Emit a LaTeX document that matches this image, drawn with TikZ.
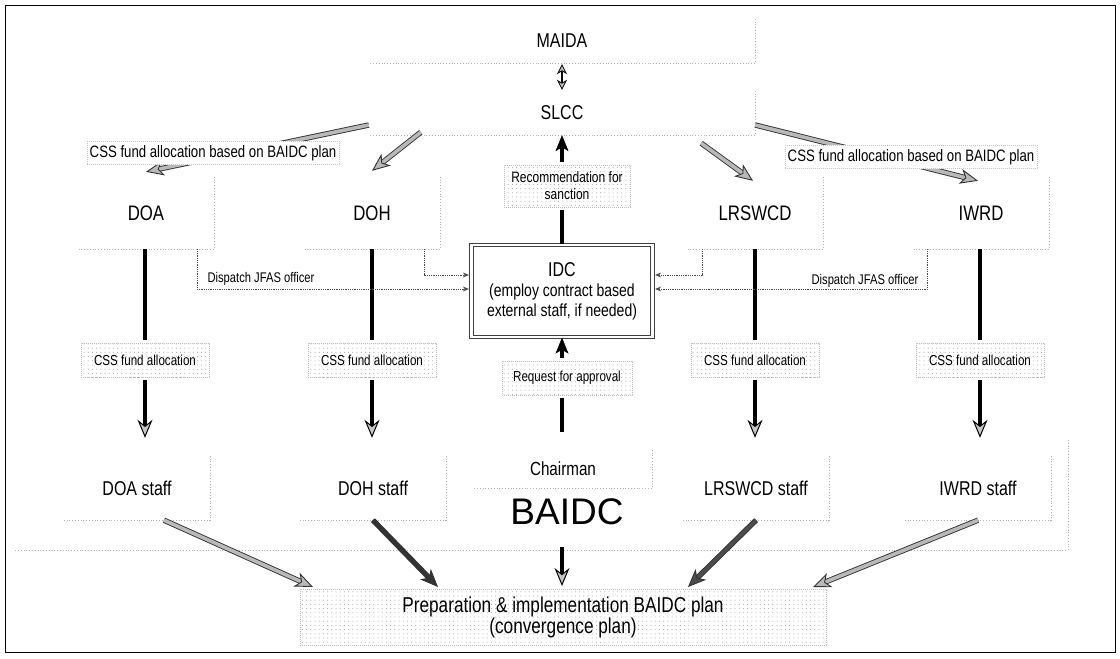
\documentclass[tikz,border=0pt]{standalone}
\usepackage{fontspec}
\setmainfont{Liberation Sans}[FakeStretch=0.8]
\newfontfamily\widefont{Liberation Sans}
\usetikzlibrary{arrows.meta,patterns.meta}

\begin{document}
\begin{tikzpicture}[x=1pt, y=-1pt,
    rim/.style={draw=gray!60, line width=0.5pt, dash pattern=on 0.8pt off 2pt},
    unit/.style={inner sep=0pt, font=\fontsize{20}{24}\selectfont, minimum width=386, minimum height=44},
    dept/.style={inner sep=0pt, font=\fontsize{21}{25}\selectfont, minimum width=136, minimum height=72},
    staff/.style={inner sep=0pt, font=\fontsize{20}{24}\selectfont, minimum width=146, minimum height=64},
    lab/.style={draw=gray!50, line width=0.4pt, dash pattern=on 0.6pt off 1.4pt, preaction={fill=white},
        pattern={Dots[distance=4.2pt, radius=0.5pt]}, pattern color=gray!75, align=center, inner sep=0pt, outer sep=3pt},
    fund/.style={lab, font=\fontsize{14.5}{17}\selectfont, minimum width=128, minimum height=34},
    toplab/.style={draw=gray!45, line width=0.4pt, dash pattern=on 0.6pt off 1.4pt, fill=white,
        font=\fontsize{16.5}{19}\selectfont, inner xsep=3pt, inner ysep=4pt},
    dispatch/.style={inner sep=0pt, font=\fontsize{14}{17}\selectfont},
    ibox/.style={draw=black!75, line width=1.3pt, double=white, double distance=2.2pt, align=center,
        font=\fontsize{17.5}{20}\selectfont, minimum width=181, minimum height=92, inner sep=0pt},
    disp/.style={draw=black!70, line width=0.8pt, densely dotted, shorten >=2pt, -{Stealth[length=6pt, width=5pt]}},
    garrow/.style={draw=#1, line width=3.6pt,
        -{Stealth[length=18pt, width=15pt, inset=5pt, fill=#1, color=black!80, line width=0.9pt]},
        preaction={draw=black!80, line width=5.4pt, -, shorten >=13pt}},
    garrow/.default=gray!55,
    bline/.style={draw=black, line width=4.5pt},
    barrow/.style={bline, -{Stealth[length=18pt, width=15pt, inset=6pt, fill=gray!45, color=black, line width=1pt]}},
    uarrow/.style={bline, -{Stealth[length=16pt, width=13pt, inset=4pt, line width=0.5pt]}},
    twoway/.style={draw=black, line width=2.4pt, shorten <=1pt, shorten >=1pt,
        {Stealth[length=10pt, width=10pt, inset=3pt, fill=gray!50, line width=0.8pt]}-{Stealth[length=10pt, width=10pt, inset=3pt, fill=gray!50, line width=0.8pt]}}]
    \useasboundingbox (0,0) rectangle (1120,659);
    \draw[line width=1pt] (5,5) rectangle (1115,652);
    \draw[rim] (1068,440) |- (15,550);

    \node[unit] (maida) at (562,41) {MAIDA};
    \node[unit] (slcc) at (562,113) {SLCC};
    \node[dept] (doa) at (146,213) {DOA};
    \node[dept] (doh) at (372,213) {DOH};
    \node[dept] (lrswcd) at (755,213) {LRSWCD};
    \node[dept] (iwrd) at (981,213) {IWRD};
    \node[ibox] (idc) at (562,291) {{\fontsize{20}{22}\selectfont IDC}\\(employ contract based\\external staff, if needed)};
    \node[lab, font=\fontsize{15}{17}\selectfont, minimum width=126, minimum height=42] (rec) at (567,186) {Recommendation for\\sanction};
    \node[lab, font=\fontsize{14.5}{17}\selectfont, minimum width=130, minimum height=34] (req) at (567,378) {Request for approval};
    \node[fund] (fdoa) at (145,360) {CSS fund allocation};
    \node[fund] (fdoh) at (372,360) {CSS fund allocation};
    \node[fund] (flrswcd) at (755,360) {CSS fund allocation};
    \node[fund] (fiwrd) at (980,360) {CSS fund allocation};
    \node[staff] (sdoa) at (137,488) {DOA staff};
    \node[staff] (sdoh) at (373,488) {DOH staff};
    \node[staff] (slrswcd) at (756,488) {LRSWCD staff};
    \node[staff] (siwrd) at (978,488) {IWRD staff};
    \node[inner sep=0pt, font=\fontsize{19}{22}\selectfont, minimum width=178, minimum height=38] (chair) at (563,469) {Chairman};
    \node[inner sep=0pt, font=\widefont\fontsize{37}{40}\selectfont] (baidc) at (567,512) {BAIDC};
    \node[lab, font=\fontsize{21.5}{20}\selectfont, minimum width=526, minimum height=56] (plan) at (563,617) {Preparation \& implementation BAIDC plan\\(convergence plan)};
    \node[dispatch] (displ) at (261,279) {Dispatch JFAS officer};
    \node[dispatch] (dispr) at (865,281) {Dispatch JFAS officer};

    \foreach \n in {maida,slcc,doa,doh,lrswcd,iwrd,sdoa,sdoh,slrswcd,siwrd,chair}
        \draw[rim] (\n.north east) |- (\n.south west);

    \draw[twoway] (maida) -- (slcc);
    \draw[garrow] ([yshift=-12pt]slcc.west) -- ([yshift=5pt]doa.north);
    \draw[garrow] ([shift={(52,-3)}]slcc.south west) -- ([yshift=6pt]doh.north);
    \draw[garrow] ([shift={(-54,8)}]slcc.south east) -- ([shift={(-2,4)}]lrswcd.north);
    \draw[garrow] ([yshift=-12pt]slcc.east) -- ([shift={(-3,4)}]iwrd.north);

    \foreach \d in {doa,doh,lrswcd,iwrd} {
        \draw[bline] (f\d) -- (f\d |- \d.south);
        \draw[barrow, shorten >=18pt] (f\d) -- (f\d |- s\d.north);
    }

    \draw[bline] (idc.north) -- (idc.north |- rec.south);
    \draw[uarrow] (idc.north |- rec.north) -- (slcc.south -| idc.north);
    \draw[bline, shorten <=18pt] (idc.south |- chair.north) -- (idc.south |- req.south);
    \draw[uarrow] (idc.south |- req.north) -- (idc.south);
    \draw[barrow, shorten <=22pt] (baidc.south -| idc.south) -- (plan.north -| idc.south);

    \draw[disp] ([xshift=-17pt]doa.south east) |- ([yshift=2pt]idc.west);
    \draw[disp] ([xshift=-16pt]doh.south east) |- ([yshift=16pt]idc.west);
    \draw[disp] ([xshift=16pt]lrswcd.south west) |- ([yshift=16pt]idc.east);
    \draw[disp] ([xshift=15pt]iwrd.south west) |- ([yshift=2pt]idc.east);

    \draw[garrow] ([xshift=27pt]sdoa.south) -- ([shift={(16,1)}]plan.north west);
    \draw[garrow=gray!40!black] (sdoh.south) -- ([shift={(141,1)}]plan.north west);
    \draw[garrow=gray!60!black] (slrswcd.south) -- ([shift={(125,1)}]plan.north);
    \draw[garrow] (siwrd.south) -- ([shift={(-16,1)}]plan.north east);

    \node[toplab] (fl) at (213,153) {CSS fund allocation based on BAIDC plan};
    \node[toplab] (fr) at (911,157) {CSS fund allocation based on BAIDC plan};
\end{tikzpicture}
\end{document}
